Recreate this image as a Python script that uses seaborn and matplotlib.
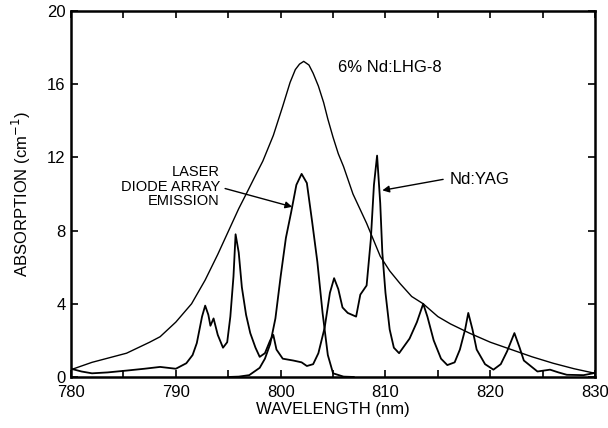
import matplotlib
matplotlib.use("Agg")
import matplotlib.pyplot as plt
import seaborn as sns
import pandas as pd

# 6% Nd:LHG-8 glass absorption
lhg_wl = [780, 782, 785.3, 787.5, 788.5, 790, 791.5, 792.8, 794, 795.2, 796, 796.8, 797.5, 798.3, 799.3, 800.2,
          800.9, 801.4, 801.8, 802.2, 802.7, 803.1, 803.6, 804.1, 804.5, 805, 805.5, 806, 806.9, 808.2, 809.5,
          810.4, 811.4, 812.5, 813.6, 815, 816.2, 818, 820, 822, 824, 826, 828, 830]
lhg_abs = [0.4, 0.8, 1.3, 1.9, 2.2, 3.0, 4.0, 5.3, 6.7, 8.2, 9.2, 10.1, 10.9, 11.8, 13.2, 14.8,
           16.1, 16.8, 17.1, 17.25, 17.05, 16.6, 15.9, 15.0, 14.1, 13.1, 12.2, 11.5, 10.0, 8.4, 6.6,
           5.8, 5.1, 4.4, 4.0, 3.3, 2.9, 2.4, 1.9, 1.5, 1.1, 0.75, 0.45, 0.2]

# Nd:YAG absorption
yag_wl = [780, 781, 782, 783.5, 785.3, 787, 788.5, 790, 791, 791.6, 792, 792.5, 792.8, 793.1, 793.3, 793.6, 794,
          794.5, 794.9, 795.2, 795.5, 795.7, 796, 796.3, 796.7, 797.1, 797.6, 798, 798.5, 799, 799.3, 799.6,
          800.2, 801.2, 802, 802.5, 803.1, 803.6, 804.2, 804.7, 805.1, 805.5, 805.9, 806.4, 807.2, 807.6, 808.2,
          808.6, 808.9, 809.2, 809.5, 809.7, 810, 810.4, 810.8, 811.3, 812.3, 813, 813.6, 814, 814.6, 815.3,
          815.9, 816.6, 817.1, 817.6, 817.9, 818.3, 818.7, 819.5, 820.3, 821, 821.6, 822.3, 822.8, 823.2, 824.5,
          825.7, 826.5, 827.3, 828.9, 829.8, 830]
yag_abs = [0.45, 0.3, 0.2, 0.25, 0.35, 0.45, 0.55, 0.45, 0.75, 1.2, 1.85, 3.3, 3.9, 3.4, 2.8, 3.2, 2.3,
           1.6, 1.9, 3.3, 5.5, 7.8, 6.8, 4.9, 3.4, 2.4, 1.6, 1.1, 1.3, 2.0, 2.3, 1.5,
           1.0, 0.9, 0.8, 0.6, 0.7, 1.3, 2.7, 4.6, 5.4, 4.8, 3.8, 3.5, 3.3, 4.5, 5.0,
           7.5, 10.5, 12.1, 9.5, 6.8, 4.6, 2.6, 1.6, 1.3, 2.1, 3.0, 4.0, 3.3, 2.0, 1.0,
           0.65, 0.8, 1.5, 2.6, 3.5, 2.6, 1.5, 0.7, 0.4, 0.7, 1.4, 2.4, 1.6, 0.9, 0.3,
           0.4, 0.25, 0.12, 0.1, 0.2, 0.25]

# Laser diode array emission
diode_wl = [795, 796, 797, 798, 798.5, 799, 799.5, 800, 800.5, 801, 801.5, 802, 802.5, 803, 803.5, 804, 804.5,
            805, 806, 807]
diode_abs = [0.0, 0.02, 0.1, 0.5, 1.0, 1.8, 3.2, 5.5, 7.6, 9.0, 10.5, 11.1, 10.6, 8.5, 6.3, 3.5, 1.2,
             0.2, 0.02, 0.0]

x_ticks = [780, 790, 800, 810, 820, 830]
y_ticks = [0, 4, 8, 12, 16, 20]

sns.set_style("ticks")
plt.rcParams['font.family'] = ['Liberation Sans', 'DejaVu Sans']
plt.rcParams['text.color'] = 'black'
plt.rcParams['axes.labelcolor'] = 'black'

fig = plt.figure(figsize=(6.08, 4.28), dpi=100)
ax = fig.add_axes([0.1168, 0.1192, 0.862, 0.855])

df_lhg = pd.DataFrame({"wl": lhg_wl, "a": lhg_abs})
df_yag = pd.DataFrame({"wl": yag_wl, "a": yag_abs})
df_dio = pd.DataFrame({"wl": diode_wl, "a": diode_abs})

sns.lineplot(data=df_lhg, x="wl", y="a", ax=ax, color="black", linewidth=1.0, sort=False)
sns.lineplot(data=df_yag, x="wl", y="a", ax=ax, color="black", linewidth=1.3, sort=False)
sns.lineplot(data=df_dio, x="wl", y="a", ax=ax, color="black", linewidth=1.3, sort=False)

ax.set_xlim(780, 830)
ax.set_ylim(0, 20)
ax.set_xticks(x_ticks)
ax.set_xticks(range(785, 830, 10), minor=True)
ax.set_yticks(y_ticks)
ax.tick_params(which="both", direction="in", top=True, right=True, labelsize=12,
               colors="black", width=1.2, length=5)
ax.tick_params(axis="x", which="both", pad=6)
ax.tick_params(axis="y", which="both", pad=4)
for s in ax.spines.values():
    s.set_linewidth(1.8)
    s.set_color("black")

ax.set_xlabel("WAVELENGTH (nm)", fontsize=12, labelpad=1, color="black")
ax.set_ylabel("ABSORPTION (cm$^{-1}$)", fontsize=12, labelpad=10, color="black")

ax.text(810.4, 16.9, "6% Nd:LHG-8", fontsize=12, ha="center", va="center", color="black")
ax.text(794.2, 10.4, "LASER\nDIODE ARRAY\nEMISSION", fontsize=10.5, ha="right", va="center",
        multialignment="right", linespacing=1.05, color="black")
ax.annotate("", xy=(801.1, 9.3), xytext=(794.7, 10.3),
            arrowprops=dict(arrowstyle="-|>", color="black", lw=1.0, shrinkA=0, shrinkB=0,
                            mutation_scale=10))
ax.text(816.1, 10.8, "Nd:YAG", fontsize=12, ha="left", va="center", color="black")
ax.annotate("", xy=(809.7, 10.2), xytext=(815.5, 10.8),
            arrowprops=dict(arrowstyle="-|>", color="black", lw=1.0, shrinkA=0, shrinkB=0,
                            mutation_scale=10))

fig.savefig("out.png", dpi=100)
